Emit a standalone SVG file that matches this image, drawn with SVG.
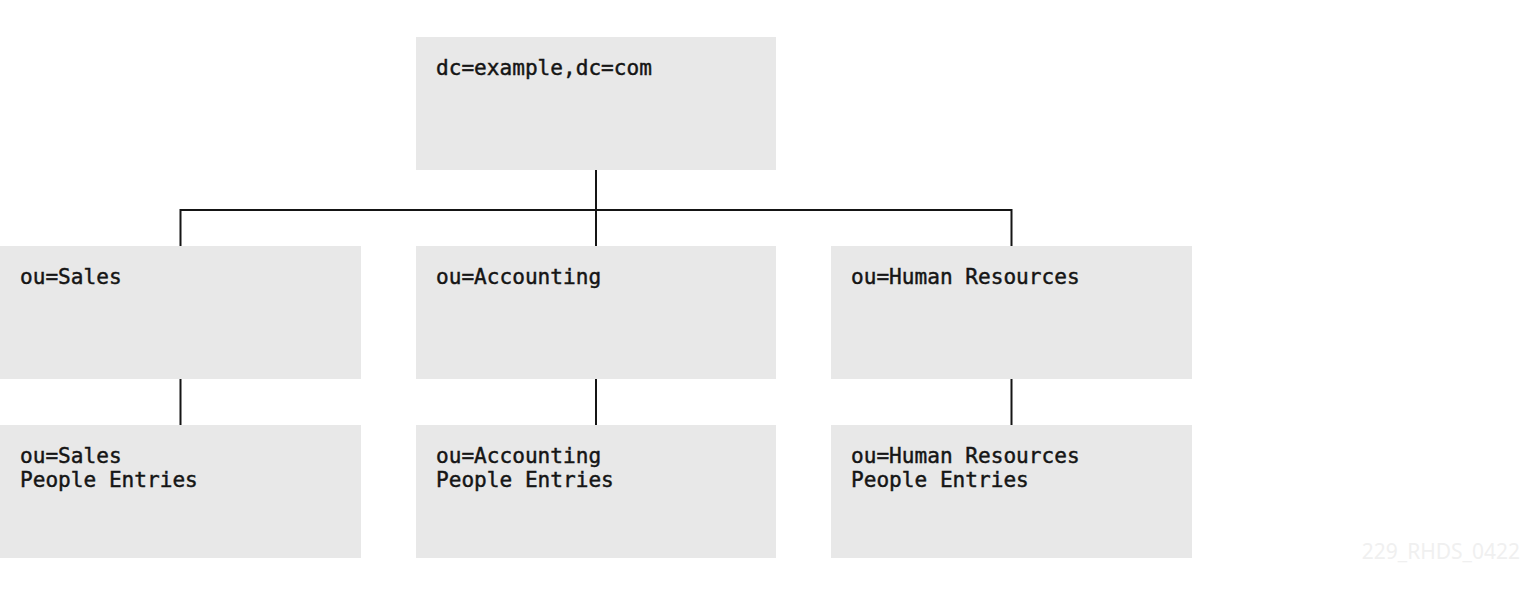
<svg xmlns="http://www.w3.org/2000/svg" width="1520" height="594" viewBox="0 0 1520 594">
<style>
.box{fill:#e8e8e8}
.t{font-family:"DejaVu Sans Mono","Liberation Mono",monospace;font-size:21.1px;fill:#151515;stroke:#151515;stroke-width:0.45px}
.c{stroke:#151515;stroke-width:2;fill:none}
.wm{font-family:"Noto Sans","Liberation Sans",sans-serif;font-size:21px;fill:#f0f0f0}
</style>
<rect width="1520" height="594" fill="#fff"/>
<g id="connectors">
<path class="c" d="M596 170V246M180.5 246V210H1011.5V246"/>
<path class="c" d="M180.5 379V425M596 379V425M1011.5 379V425"/>
</g>
<g id="root"><rect class="box" x="416" y="37" width="360" height="133"/><text class="t" x="436" y="75">dc=example,dc=com</text></g>
<g id="sales"><rect class="box" x="0" y="246" width="361" height="133"/><text class="t" x="20" y="284">ou=Sales</text></g>
<g id="accounting"><rect class="box" x="416" y="246" width="360" height="133"/><text class="t" x="436" y="284">ou=Accounting</text></g>
<g id="hr"><rect class="box" x="831" y="246" width="361" height="133"/><text class="t" x="851" y="284">ou=Human Resources</text></g>
<g id="sales-people"><rect class="box" x="0" y="425" width="361" height="133"/><text class="t" x="20" y="463">ou=Sales</text><text class="t" x="20" y="487">People Entries</text></g>
<g id="accounting-people"><rect class="box" x="416" y="425" width="360" height="133"/><text class="t" x="436" y="463">ou=Accounting</text><text class="t" x="436" y="487">People Entries</text></g>
<g id="hr-people"><rect class="box" x="831" y="425" width="361" height="133"/><text class="t" x="851" y="463">ou=Human Resources</text><text class="t" x="851" y="487">People Entries</text></g>
<text class="wm" x="1520" y="559" text-anchor="end">229_RHDS_0422</text>
</svg>
